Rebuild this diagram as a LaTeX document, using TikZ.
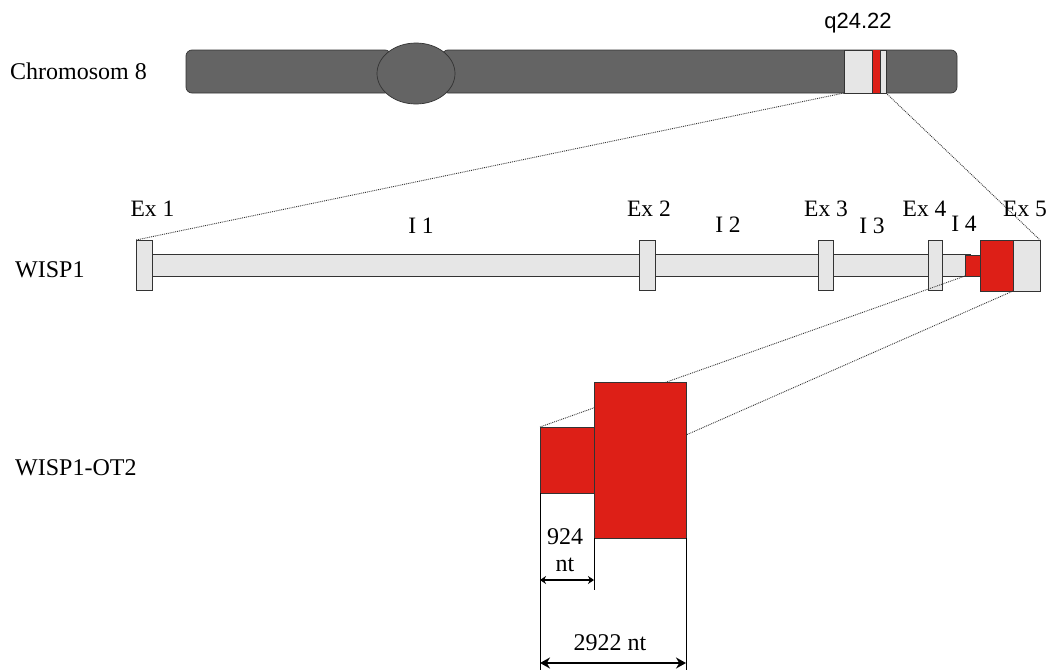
\documentclass[tikz,border=0pt]{standalone}
\usepackage{fontspec}
\setmainfont{Liberation Serif}
\newfontfamily\sansf{Liberation Sans}
\usetikzlibrary{arrows.meta,shapes.geometric}
\definecolor{chrom}{HTML}{646464}
\definecolor{lgray}{HTML}{E6E6E6}
\definecolor{gred}{HTML}{DD1F17}
\begin{document}
\begin{tikzpicture}[x=1pt,y=-1pt,
  blk/.style={draw=black!80,line width=0.7pt,inner sep=0,outer sep=0,anchor=north west},
  exon/.style={blk,fill=lgray},
  redb/.style={blk,fill=gred},
  arm/.style={blk,fill=chrom,rounded corners=6pt},
  zoomline/.style={densely dotted,line width=0.9pt,black!80},
  dim/.style={line width=0.6pt},
  slab/.style={anchor=base,inner sep=0,font=\fontsize{24}{27}\selectfont},
  elab/.style={anchor=base,inner sep=0,font=\fontsize{23.5}{27}\selectfont},
]
\useasboundingbox (0,0) rectangle (1050,672);
% chromosome
\node[arm,minimum width=205,minimum height=43] (larm) at (186,50) {};
\node[arm,minimum width=515,minimum height=43] (rarm) at (442,50) {};
\node[draw=black!80,line width=0.7pt,fill=chrom,ellipse,minimum width=78,minimum height=61,inner sep=0] (cen) at (416,73.5) {};
\node[blk,fill=lgray,minimum width=42,minimum height=43] (band) at (844,50) {};
\node[blk,fill=gred,minimum width=8,minimum height=43,draw=none] (redband) at (872,50) {};
\draw[black!80,line width=0.7pt] (redband.north west)--(redband.south west) (redband.north east)--(redband.south east);
\node[anchor=base,inner sep=0,font=\sansf\fontsize{22}{24}\selectfont] (q) at (858,28) {q24.22};
\node[slab,anchor=base west] (chr) at (10,79) {Chromosom 8};
% WISP1 gene
\coordinate (ex5ne) at (1040,240);
\coordinate (ex1nw) at (136,240);
\draw[zoomline] (band.south west) -- (ex1nw);
\draw[zoomline] (band.south east) -- (ex5ne);
\node[exon,minimum width=820,minimum height=22] (bar) at (150,254) {};
\node[exon,minimum width=16,minimum height=50] (ex1) at (136,240) {};
\node[exon,minimum width=16,minimum height=50] (ex2) at (639,240) {};
\node[exon,minimum width=15,minimum height=50] (ex3) at (818,240) {};
\node[exon,minimum width=14,minimum height=50] (ex4) at (928,240) {};
\node[redb,minimum width=15,minimum height=21] (i4red) at (965,255) {};
\node[redb,minimum width=33,minimum height=51] (ex5red) at (980,240) {};
\node[exon,minimum width=27,minimum height=51] (ex5) at (1013,240) {};
\node[elab] (lex1) at (152.5,216) {Ex 1};
\node[elab] (li1) at (421,233) {I 1};
\node[elab] (lex2) at (649,216) {Ex 2};
\node[elab] (li2) at (728,232) {I 2};
\node[elab] (lex3) at (826,216) {Ex 3};
\node[elab] (li3) at (872,233) {I 3};
\node[elab] (lex4) at (924.5,216) {Ex 4};
\node[elab] (li4) at (964,231) {I 4};
\node[elab] (lex5) at (1025,216) {Ex 5};
\node[slab,anchor=base west] (wisp) at (15,277) {WISP1};
% WISP1-OT2
\coordinate (smnw) at (540,427);
\coordinate (bgse) at (686,435);
\draw[zoomline] (i4red.south west) -- (smnw);
\draw[zoomline] (ex5red.south east) -- (bgse);
\node[redb,minimum width=54,minimum height=66] (small) at (540,427) {};
\node[redb,minimum width=92,minimum height=156] (big) at (594,382) {};
\node[slab,anchor=base west] (ot2) at (15,475) {WISP1-OT2};
% dimensions
\coordinate (d1) at (540,670);
\coordinate (d2) at (594,590);
\coordinate (d3) at (686,670);
\draw[dim] (small.south west) -- (d1);
\draw[dim] (big.south west) -- (d2);
\draw[dim] (big.south east) -- (d3);
\coordinate (a1) at (540,580);
\coordinate (a2) at (594,580);
\draw[line width=1.2pt,{Stealth[length=6pt,width=8pt]}-{Stealth[length=6pt,width=8pt]}] (a1) -- (a2);
\node[align=center,inner sep=0,font=\fontsize{24}{27}\selectfont] (l924) at (565,550) {924\\nt};
\coordinate (b1) at (540,663);
\coordinate (b2) at (686,663);
\draw[line width=1.8pt,{Stealth[length=10pt,width=11pt]}-{Stealth[length=10pt,width=11pt]}] (b1) -- (b2);
\node[slab] (l2922) at (610,650) {2922 nt};
\end{tikzpicture}
\end{document}
